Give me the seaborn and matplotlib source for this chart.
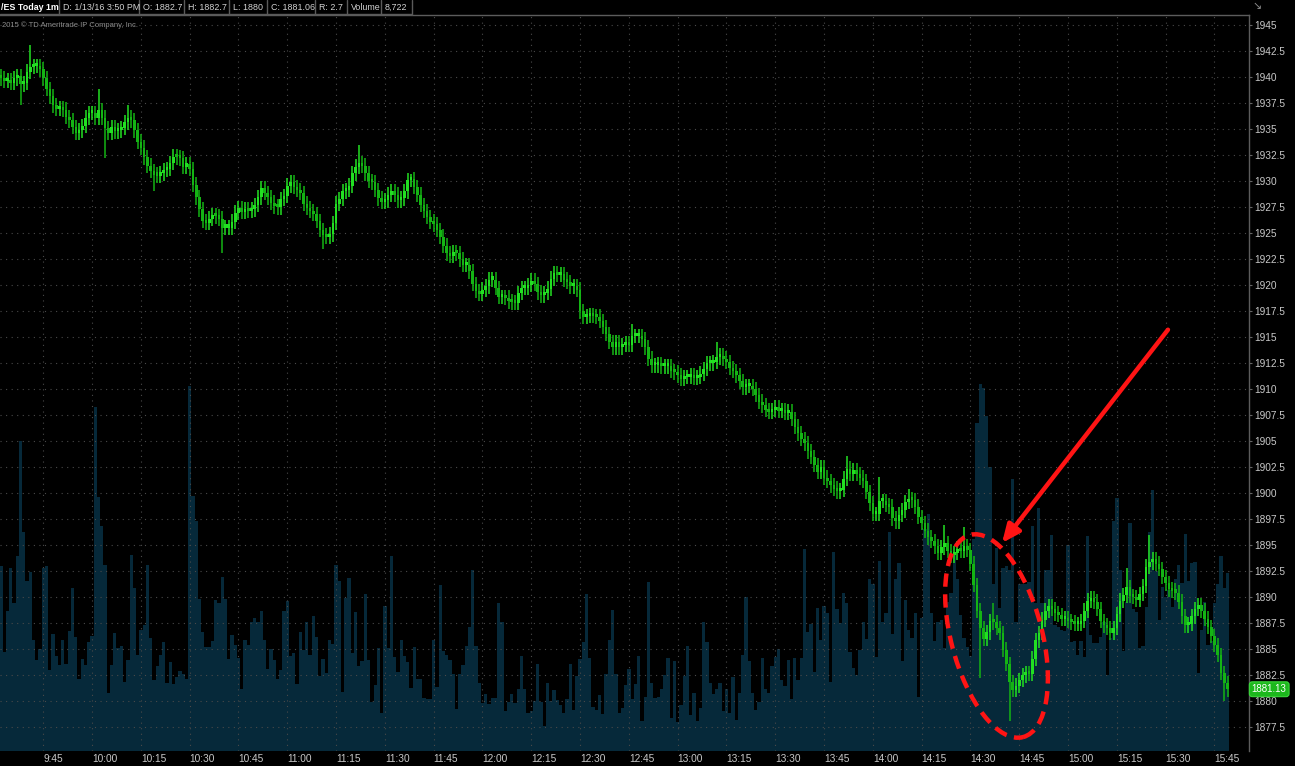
import numpy as np
import pandas as pd
import seaborn as sns
import matplotlib
matplotlib.use("Agg")
import matplotlib.pyplot as plt
from matplotlib.patches import Ellipse
from matplotlib.lines import Line2D
from matplotlib.transforms import ScaledTranslation

# /ES 1 minute bars, 1/13/16 (first bar 9:32)
first_minute = 2          # minutes after 9:30
first_open = 1940.1
closes = [
    1939.86, 1939.65, 1939.65, 1939.43, 1939.86, 1940.08, 1939.30, 1939.43, 1940.52, 1940.95,
    1941.04, 1941.04, 1940.73, 1939.86, 1938.86, 1938.13, 1937.26, 1936.95, 1937.04, 1936.86,
    1936.17, 1935.82, 1935.21, 1934.65, 1934.86, 1935.30, 1936.08, 1936.52, 1936.52, 1936.08,
    1936.82, 1936.08, 1935.08, 1934.65, 1935.21, 1934.78, 1934.86, 1935.08, 1935.65, 1936.08,
    1935.82, 1934.86, 1933.78, 1933.21, 1932.26, 1931.47, 1930.95, 1930.60, 1930.52, 1930.73,
    1931.04, 1931.17, 1931.73, 1932.34, 1932.26, 1932.17, 1931.39, 1931.60, 1931.17, 1929.65,
    1928.43, 1927.26, 1926.17, 1925.95,
    1926.39, 1926.69, 1926.60, 1926.39, 1925.52, 1925.52, 1925.52, 1926.08, 1926.95, 1927.39,
    1927.04, 1927.26, 1927.13, 1927.26, 1927.69, 1928.43, 1929.30, 1928.86, 1928.43, 1927.91,
    1927.56, 1927.47, 1928.26, 1928.56, 1929.56, 1929.86, 1929.43, 1929.13, 1928.86, 1927.82,
    1927.39, 1927.13, 1926.82, 1926.17, 1925.30, 1924.78, 1924.65, 1924.86, 1925.95, 1927.82,
    1928.26, 1929.00, 1929.13, 1929.56, 1930.73, 1931.39, 1931.73, 1931.47, 1930.73, 1930.00,
    1929.86, 1929.13, 1928.34, 1928.00, 1928.13, 1928.69, 1929.00, 1928.69, 1928.13, 1928.34,
    1929.00, 1930.08, 1930.17,
    1929.43, 1928.69, 1927.69, 1927.13, 1926.52, 1926.08, 1925.82, 1925.30, 1924.65, 1923.78,
    1923.04, 1922.78, 1923.13, 1923.04, 1922.47, 1921.91, 1921.91, 1921.30, 1920.08, 1919.43,
    1919.13, 1919.56, 1919.86, 1920.52, 1920.52, 1919.73, 1918.86, 1918.86, 1918.78, 1918.43,
    1918.34, 1918.26, 1919.21, 1919.73, 1919.73, 1920.00, 1920.43, 1920.08, 1919.30, 1919.00,
    1919.21, 1919.65, 1920.60, 1921.17, 1920.95, 1921.04, 1920.52, 1920.30, 1919.86, 1919.86,
    1919.56, 1917.47, 1916.95, 1917.04, 1917.13, 1917.04, 1916.95, 1916.52, 1915.95, 1915.30,
    1914.52, 1914.00,
    1914.52, 1914.00, 1914.21, 1914.43, 1914.26, 1915.08, 1915.08, 1915.08, 1914.78, 1914.00,
    1912.91, 1912.26, 1912.26, 1912.34, 1912.17, 1912.17, 1912.17, 1911.73, 1911.60, 1911.30,
    1910.95, 1911.17, 1911.17, 1911.30, 1911.04, 1911.17, 1911.47, 1911.91, 1912.47, 1912.47,
    1912.60, 1913.04, 1913.21, 1912.91, 1912.60, 1912.04, 1911.73, 1911.30, 1910.73, 1910.17,
    1910.30, 1910.30, 1910.00, 1909.43, 1908.78, 1908.43, 1908.00, 1907.82, 1908.00, 1908.26,
    1907.91, 1908.00, 1907.69, 1907.82, 1907.13, 1906.39, 1905.73, 1905.21, 1904.78, 1904.00,
    1903.47, 1902.69, 1902.04,
    1902.47, 1901.47, 1901.17, 1900.73, 1900.43, 1900.17, 1900.30, 1901.39, 1902.34, 1901.82,
    1902.17, 1901.82, 1901.47, 1901.17, 1900.08, 1899.00, 1898.00, 1898.00, 1899.21, 1899.21,
    1898.86, 1898.69, 1897.56, 1897.26, 1897.91, 1898.34, 1899.13, 1899.43, 1899.30, 1898.69,
    1897.69, 1897.13, 1896.39, 1895.73, 1895.39, 1894.86, 1894.21, 1894.78, 1895.21, 1894.43,
    1894.00, 1894.21, 1894.65, 1894.43, 1894.86, 1894.52, 1893.21, 1891.17, 1888.69, 1887.04,
    1885.95, 1886.60, 1887.69, 1887.56, 1887.04, 1886.52, 1884.95, 1883.56, 1881.82, 1881.04,
    1881.47, 1882.04, 1882.47,
    1882.69, 1882.60, 1884.08, 1885.82, 1886.52, 1887.82, 1888.69, 1889.13, 1888.86, 1888.43,
    1888.26, 1887.91, 1887.91, 1887.69, 1887.56, 1887.39, 1887.39, 1887.69, 1888.69, 1889.65,
    1889.87, 1889.56, 1888.86, 1887.69, 1887.26, 1887.04, 1886.52, 1887.04, 1888.34, 1889.65,
    1890.17, 1890.95, 1890.08, 1890.00, 1889.73, 1890.30, 1891.04, 1892.91, 1893.34, 1893.65,
    1893.21, 1892.69, 1891.91, 1891.30, 1890.73, 1890.60, 1890.43, 1889.56, 1888.13, 1887.26,
    1887.39, 1888.13, 1888.86, 1889.21, 1888.69, 1887.91, 1887.13, 1886.26, 1885.39, 1884.43,
    1882.69, 1881.73, 1881.13,
]

volumes = [
    9058, 4840, 6882, 8991, 7282, 9568, 15229, 10767, 8347, 8769,
    5461, 4462, 4995, 8991, 9058, 3952, 5728, 4684, 4218, 5461,
    4285, 5905, 8014, 5617, 3508, 4507, 4218, 5350, 5661, 16872,
    12454, 11056, 9124, 2842, 4218, 5772, 5062, 5128, 3397, 4440,
    9613, 7992, 4729, 5950, 6172, 9102, 5550, 3463, 4174, 4729,
    5328, 3330, 4351, 3286, 3619, 3907, 3774, 3552, 17893, 12499,
    11278, 7459, 5839, 5106,
    5106, 5395, 7393, 7282, 8547, 7459, 4507, 5683, 5217, 4573,
    3019, 5439, 5217, 6327, 6549, 6327, 6882, 5461, 4018, 5017,
    4462, 3552, 3952, 6882, 7348, 4684, 4795, 3286, 5861, 4951,
    6349, 4729, 6616, 5617, 3663, 4507, 3841, 5439, 5239, 9102,
    8325, 2886, 7504, 8503, 4795, 6838, 4174, 4396, 7726, 4440,
    2398, 3219, 5062, 1887, 7104, 5062, 9568, 4618, 3885, 5439,
    4684, 4351, 3108,
    5106, 3552, 3508, 2620, 2575, 2575, 5439, 3130, 8125, 4884,
    4729, 4462, 3796, 2065, 3774, 4218, 5173, 6061, 8880, 5128,
    3352, 2331, 2797, 2287, 2620, 2620, 7282, 6349, 1954, 2398,
    2775, 2353, 3064, 4684, 3064, 1843, 1954, 2442, 4285, 2398,
    1243, 3352, 2442, 2997, 2509, 2242, 1887, 2553, 4285, 1998,
    3685, 4507, 5328, 7681, 4573, 2176, 2020, 2731, 1798, 3774,
    5461, 6904, 3774, 1843,
    2131, 3219, 4018, 2575, 3286, 4662, 1465, 2664, 8281, 3330,
    2620, 2664, 3064, 3730, 4573, 1621, 4396, 1399, 2242, 3685,
    5128, 1776, 2842, 1465, 2131, 6327, 5328, 3352, 2775, 3019,
    3330, 1954, 3064, 1887, 3619, 1510, 2842, 4729, 7548, 4396,
    2842, 2020, 2398, 4551, 3019, 2842, 4174, 4618, 5017, 3463,
    3175, 4462, 2575, 4573, 3463, 4573, 9901, 5839, 6216, 3885,
    6993, 5439, 7126,
    6793, 3397, 9768, 6949, 6283, 7770, 7282, 4840, 4063, 3730,
    4951, 6327, 5506, 8436, 8170, 4618, 9324, 6327, 6793, 10767,
    5728, 8436, 9213, 4396, 7393, 5950, 5550, 6793, 2664, 6505,
    10878, 11611, 6793, 5395, 6349, 6438, 5062, 7326, 7770, 9768,
    8436, 6660, 5550, 5106, 4662, 10390, 16095, 17982, 17827, 16450,
    13942, 8214, 9946, 7015, 8991, 9058, 8880, 13320, 6327, 8214,
    8214, 8214, 8281,
    11056, 7282, 11944, 7282, 8880, 8880, 10612, 6172, 6061, 5950,
    5883, 10101, 5328, 5395, 4729, 5395, 4618, 10545, 5683, 5284,
    5284, 5617, 6327, 3730, 5550, 11278, 12432, 8880, 4884, 7326,
    11167, 6949, 6838, 5062, 5173, 7060, 10723, 12787, 8836, 6438,
    8059, 7548, 7881, 7060, 8436, 9102, 8236, 10656, 8325, 9213,
    9280, 3841, 5950, 7326, 5217, 5395, 7282, 8170, 9568, 7992,
    8722,
]

# bars with a long wick (bar number -> price)
wick_highs = {9: 1943.1, 30: 1938.8, 39: 1937.3, 110: 1933.5, 126: 1930.7, 194: 1916.25,
              220: 1914.5, 260: 1903.55, 270: 1901.5, 279: 1900.4, 290: 1896.95, 296: 1896.7,
              305: 1889.4, 346: 1892.8, 353: 1895.95}
wick_lows = {6: 1937.3, 32: 1932.25, 47: 1929.0, 68: 1923.1, 99: 1923.5, 301: 1882.25,
             310: 1878.1, 376: 1880.0}

time_labels = ['9:45', '10:00', '10:15', '10:30', '10:45', '11:00', '11:15', '11:30', '11:45',
               '12:00', '12:15', '12:30', '12:45', '13:00', '13:15', '13:30', '13:45', '14:00',
               '14:15', '14:30', '14:45', '15:00', '15:15', '15:30', '15:45']
price_ticks = [1877.5, 1880, 1882.5, 1885, 1887.5, 1890, 1892.5, 1895, 1897.5, 1900, 1902.5,
               1905, 1907.5, 1910, 1912.5, 1915, 1917.5, 1920, 1922.5, 1925, 1927.5, 1930,
               1932.5, 1935, 1937.5, 1940, 1942.5, 1945]
header = ['/ES Today 1m', 'D: 1/13/16 3:50 PM', 'O: 1882.7', 'H: 1882.7', 'L: 1880',
          'C: 1881.06', 'R: 2.7', 'Volume', '8,722']
last_price_label = '1881.13'

# circled sell-off and arrow pointing at it (time in minutes after 9:30, price)
circle_center = (308.0, 1886.25)
arrow_tip = (309.7, 1895.2)
arrow_tail = (360.7, 1915.7)

sns.set_theme(style='dark', rc={'figure.facecolor': 'black', 'axes.facecolor': 'black',
                                'savefig.facecolor': 'black'})
plt.rcParams['font.family'] = ['Liberation Sans', 'DejaVu Sans']

n = min(len(closes), len(volumes))
df = pd.DataFrame({'close': closes[:n], 'volume': volumes[:n]})
df['minute'] = first_minute + np.arange(n)
df['open'] = df['close'].shift(1).fillna(first_open)
df['high'] = df[['open', 'close']].max(axis=1) + 0.7
df['low'] = df[['open', 'close']].min(axis=1) - 0.7
for k, v in wick_highs.items():
    if k < n:
        df.loc[k, 'high'] = v
for k, v in wick_lows.items():
    if k < n:
        df.loc[k, 'low'] = v

W, H = 1295, 766
fig = plt.figure(figsize=(W / 100, H / 100), dpi=100)
rect = [0, 1 - 751 / H, 1249 / W, (751 - 15) / H]
ax_vol = fig.add_axes(rect)
ax = fig.add_axes(rect)
ax.set_facecolor('none')

VOL = '#06293a'
sns.barplot(data=df, x='minute', y='volume', native_scale=True, width=1.0, color=VOL,
            saturation=1, errorbar=None, linewidth=0, antialiased=False, ax=ax_vol)
xlim = (5.5 / 3.2533, 1254.5 / 3.2533)
ax_vol.set_xlim(xlim)
ax_vol.set_ylim(0, 736 * 49.06)
ax_vol.axis('off')

# candles
up = df['close'] >= df['open']
cols = np.where(up, '#22e022', '#14b414')
ax.vlines(df['minute'], df['low'], df['high'], colors=cols, lw=1.1, zorder=3)
body = (df['close'] - df['open']).abs().clip(lower=0.3)
ax.bar(df['minute'], body, bottom=df[['open', 'close']].min(axis=1), width=0.8,
       color=cols, linewidth=0, zorder=4)

ax.set_xlim(xlim)
ax.set_ylim(1945 - (751 - 25) / 10.4, 1945 + 10 / 10.4)
ax.set_xticks(np.arange(15, 15 * (len(time_labels) + 1), 15))
ax.set_xticklabels(time_labels, ha='left')
ax.set_yticks(price_ticks)
ax.set_yticklabels([f'{p:g}' for p in price_ticks])
ax.yaxis.tick_right()
ax.grid(True, color='#4a4a4a', linestyle=(0, (1, 4)), lw=0.8)
ax.tick_params(axis='y', length=2, width=0.8, color='#666666', pad=1.5, labelsize=7.3,
               labelcolor='#c8c8c8')
ax.tick_params(axis='x', length=0, pad=2, labelsize=7.3, labelcolor='#c8c8c8')
for side in ['left', 'bottom']:
    ax.spines[side].set_visible(False)
for side in ['right', 'top']:
    ax.spines[side].set_color('#5c5c5c')
    ax.spines[side].set_linewidth(1)

# last price tag
ax.annotate(last_price_label, xy=(1, df['close'].iloc[-1]), xycoords=('axes fraction', 'data'),
            xytext=(2, 0), textcoords='offset points', ha='left', va='center', fontsize=7,
            color='white', annotation_clip=False,
            bbox=dict(boxstyle='round,pad=0.25,rounding_size=0.3', fc='#1cb81c', ec='#3ad83a', lw=0.8))

# red annotations
ax.annotate('', xy=arrow_tip, xytext=arrow_tail,
            arrowprops=dict(arrowstyle='-|>,head_length=0.9,head_width=0.4', color='#ff1414',
                            lw=3.2, shrinkA=0, shrinkB=0), zorder=6)
ell = Ellipse((0, 0), width=0.91, height=2.09, angle=14.7, fill=False, ec='#ff1414', lw=3.2,
              ls=(0, (3.0, 1.7)), zorder=6,
              transform=fig.dpi_scale_trans + ScaledTranslation(*circle_center, ax.transData))
ell.set_clip_on(False)
ax.add_patch(ell)

# header strip
def fx(px):
    return px / W

def fy(py):
    return 1 - py / H

seps = [59, 139, 184, 229, 267, 315, 347, 381, 412]
lefts = [0, 62, 142, 187, 232, 270, 318, 350, 384]
for i, (txt, x0) in enumerate(zip(header, lefts)):
    fig.text(fx(x0 + 1), fy(7.5), txt, fontsize=6.4, va='center', ha='left',
             color='white' if i == 0 else '#d2d2d2', fontweight='bold' if i == 0 else 'normal')
for s in seps:
    fig.add_artist(Line2D([fx(s), fx(s)], [fy(0), fy(14)], color='#5a5a5a', lw=1))
fig.add_artist(Line2D([0, fx(412)], [fy(14), fy(14)], color='#5a5a5a', lw=1))
fig.text(fx(2), fy(25), '2015 \u00a9 TD Ameritrade IP Company, Inc.', fontsize=5.5,
         color='#8c8c8c', va='center', ha='left')
fig.text(fx(1252), fy(6), '\u2198', fontsize=8, color='#8c8c8c', va='center', ha='left',
         family='DejaVu Sans')

fig.savefig('out.png', dpi=100, facecolor='black')
